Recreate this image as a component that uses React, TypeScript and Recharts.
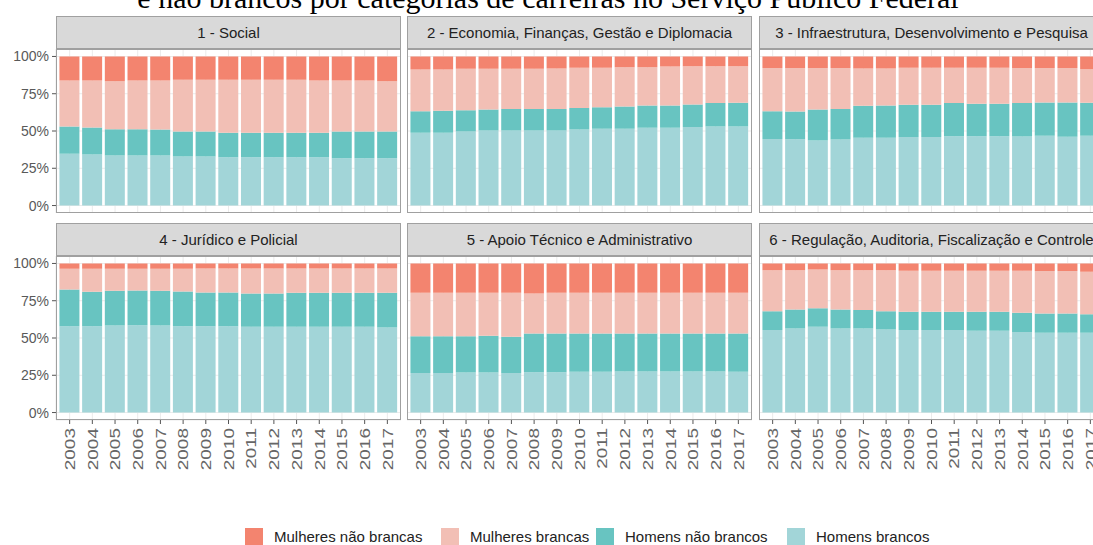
import React from "react";
import { BarChart, Bar, XAxis, YAxis, CartesianGrid } from "recharts";

// anos e títulos das facetas
const years = ["2003", "2004", "2005", "2006", "2007", "2008", "2009", "2010", "2011", "2012", "2013", "2014", "2015", "2016", "2017"];
const facetTitles = [
  "1 - Social",
  "2 - Economia, Finanças, Gestão e Diplomacia",
  "3 - Infraestrutura, Desenvolvimento e Pesquisa",
  "4 - Jurídico e Policial",
  "5 - Apoio Técnico e Administrativo",
  "6 - Regulação, Auditoria, Fiscalização e Controle",
];
const yTicks = [0, 25, 50, 75, 100];

// participação (%) por faceta, uma linha por faceta, 2003..2017
const homensBrancos = [
  [34.7, 34.2, 33.6, 33.6, 33.6, 32.9, 32.9, 32.4, 32.4, 32.4, 32.4, 32.4, 31.8, 31.8, 31.8],
  [48.8, 48.8, 49.7, 50.3, 50.3, 50.3, 50.3, 51.0, 51.5, 51.5, 52.1, 52.1, 52.6, 53.0, 53.0],
  [44.7, 44.5, 43.6, 44.3, 45.4, 45.4, 45.9, 45.9, 46.5, 46.5, 46.5, 46.3, 46.8, 46.1, 46.8],
  [57.9, 57.9, 58.4, 58.6, 58.4, 57.9, 57.9, 57.9, 57.5, 57.5, 57.5, 57.5, 57.5, 57.5, 57.0],
  [26.6, 26.6, 26.8, 26.8, 26.6, 27.1, 27.1, 27.3, 27.3, 27.5, 27.5, 27.5, 27.5, 27.5, 27.3],
  [55.3, 56.4, 57.5, 56.4, 56.4, 55.7, 55.3, 55.3, 55.3, 54.8, 54.8, 54.1, 53.5, 53.5, 53.5],
];
const homensNaoBrancos = [
  [18.3, 18.1, 17.6, 17.6, 17.4, 16.8, 16.8, 16.4, 16.4, 16.4, 16.4, 16.4, 17.9, 17.9, 17.9],
  [14.5, 14.7, 14.3, 14.1, 14.4, 14.4, 14.4, 14.5, 14.5, 14.9, 15.0, 15.0, 15.2, 15.7, 15.9],
  [18.6, 18.6, 20.8, 20.4, 21.5, 21.7, 21.7, 21.7, 22.2, 21.7, 21.7, 22.4, 22.3, 23.0, 22.1],
  [24.7, 23.1, 23.3, 23.3, 23.3, 23.3, 22.6, 22.6, 22.4, 22.4, 22.8, 22.8, 22.8, 22.8, 23.3],
  [24.6, 24.6, 24.4, 24.7, 24.2, 25.9, 25.9, 25.7, 25.7, 25.5, 25.5, 25.5, 25.5, 25.5, 25.7],
  [12.7, 12.7, 12.5, 12.7, 12.3, 12.3, 12.3, 12.3, 12.3, 12.8, 12.8, 12.8, 12.9, 12.9, 12.5],
];
const mulheresBrancas = [
  [30.9, 31.6, 32.2, 32.7, 32.9, 34.6, 34.6, 35.5, 35.5, 35.5, 35.5, 35.1, 34.2, 34.2, 33.7],
  [28.0, 27.8, 27.7, 27.3, 27.0, 27.0, 27.2, 26.9, 26.4, 26.4, 25.7, 26.2, 25.7, 24.8, 24.6],
  [28.9, 29.1, 27.8, 27.5, 25.1, 24.9, 24.8, 24.8, 23.7, 24.2, 24.2, 23.5, 23.1, 23.1, 22.6],
  [13.8, 15.4, 14.7, 14.5, 14.7, 15.2, 16.1, 16.1, 16.7, 16.7, 16.3, 16.3, 16.3, 16.3, 16.3],
  [29.1, 29.1, 29.1, 28.8, 29.5, 26.9, 27.3, 27.3, 27.3, 27.3, 27.3, 27.3, 27.3, 27.3, 27.3],
  [27.5, 26.4, 26.0, 26.4, 26.8, 27.5, 27.5, 27.5, 27.5, 27.5, 27.5, 28.2, 28.5, 28.5, 28.4],
];
const mulheresNaoBrancas = [
  [16.1, 16.1, 16.6, 16.1, 16.1, 15.7, 15.7, 15.7, 15.7, 15.7, 15.7, 16.1, 16.1, 16.1, 16.6],
  [8.7, 8.7, 8.3, 8.3, 8.3, 8.3, 8.1, 7.6, 7.6, 7.2, 7.2, 6.7, 6.5, 6.5, 6.5],
  [7.8, 7.8, 7.8, 7.8, 8.0, 8.0, 7.6, 7.6, 7.6, 7.6, 7.6, 7.8, 7.8, 7.8, 8.5],
  [3.6, 3.6, 3.6, 3.6, 3.6, 3.6, 3.4, 3.4, 3.4, 3.4, 3.4, 3.4, 3.4, 3.4, 3.4],
  [19.7, 19.7, 19.7, 19.7, 19.7, 20.1, 19.7, 19.7, 19.7, 19.7, 19.7, 19.7, 19.7, 19.7, 19.7],
  [4.5, 4.5, 4.0, 4.5, 4.5, 4.5, 4.9, 4.9, 4.9, 4.9, 4.9, 4.9, 5.1, 5.1, 5.6],
];

const seriesInfo = [
  { key: "hb", label: "Homens brancos", color: "#A2D5D8" },
  { key: "hnb", label: "Homens não brancos", color: "#68C4C1" },
  { key: "mb", label: "Mulheres brancas", color: "#F2BFB5" },
  { key: "mnb", label: "Mulheres não brancas", color: "#F3846F" },
];

const FONT = "'Liberation Sans', Arial, sans-serif";
const PANEL_W = 345;
const PANEL_H = 164;
const panelLefts = [56, 407, 759];
const plotTops = [48.5, 256];
const stripTops = [16, 223];
const STRIP_H = 32;

function panelData(p: number) {
  return years.map((y, i) => ({
    year: y,
    hb: homensBrancos[p][i],
    hnb: homensNaoBrancos[p][i],
    mb: mulheresBrancas[p][i],
    mnb: mulheresNaoBrancas[p][i],
  }));
}

// rótulos do eixo x girados, um pouco estreitos como no original
const YearTick = (props: any) => {
  const { x, y, payload } = props;
  return (
    <text
      transform={`translate(${x},${y + 2}) rotate(-90) scale(1,0.8)`}
      textAnchor="end"
      dominantBaseline="central"
      fontSize={19}
      fontFamily={FONT}
      fill="#666"
    >
      {payload.value}
    </text>
  );
};

function Panel({ index }: { index: number }) {
  const row = Math.floor(index / 3);
  const col = index % 3;
  const showY = col === 0;
  const showX = row === 1;
  const yW = showY ? 56 : 0;
  const xH = showX ? 60 : 0;
  const left = panelLefts[col] - yW;
  const top = plotTops[row];
  return (
    <div style={{ position: "absolute", left, top }}>
      <BarChart
        width={PANEL_W + yW}
        height={PANEL_H + xH}
        data={panelData(index)}
        margin={{ top: 0, right: 0, bottom: 0, left: 0 }}
        barCategoryGap="5%"
        style={{ overflow: "visible" }}
      >
        <CartesianGrid stroke="#EBEBEB" />
        <XAxis
          dataKey="year"
          hide={!showX}
          height={xH}
          padding={{ left: 2.3, right: 2.3 }}
          interval={0}
          axisLine={false}
          tickSize={4}
          tickMargin={2}
          tickLine={{ stroke: "#555" }}
          tick={<YearTick />}
        />
        <YAxis
          hide={!showY}
          width={yW}
          type="number"
          domain={[-5, 105]}
          ticks={yTicks}
          interval={0}
          allowDataOverflow
          axisLine={false}
          tickSize={4}
          tickMargin={3}
          tickLine={{ stroke: "#555" }}
          tick={{ fill: "#595959", fontSize: 14, fontFamily: FONT }}
          tickFormatter={(v: number) => `${v}%`}
        />
        {seriesInfo.map((s) => (
          <Bar key={s.key} dataKey={s.key} stackId="a" fill={s.color} isAnimationActive={false} />
        ))}
      </BarChart>
      <div
        style={{
          position: "absolute",
          left: yW,
          top: 0,
          width: PANEL_W,
          height: PANEL_H,
          border: "1px solid #A0A0A0",
          boxSizing: "border-box",
          pointerEvents: "none",
        }}
      />
    </div>
  );
}

function Strip({ index }: { index: number }) {
  const row = Math.floor(index / 3);
  const col = index % 3;
  return (
    <div
      style={{
        position: "absolute",
        left: panelLefts[col],
        top: stripTops[row],
        width: PANEL_W,
        height: STRIP_H + 1,
        background: "#D9D9D9",
        border: "1px solid #A0A0A0",
        boxSizing: "border-box",
        display: "flex",
        alignItems: "center",
        justifyContent: "center",
        fontFamily: FONT,
        fontSize: 15,
        color: "#222",
        whiteSpace: "nowrap",
        overflow: "visible",
      }}
    >
      {facetTitles[index]}
    </div>
  );
}

const legendOrder = ["mnb", "mb", "hnb", "hb"];
const legendKeyX = [245, 441, 596, 787];
const legendTextX = [274, 470, 625, 816];

export default function App() {
  return (
    <div
      style={{
        position: "absolute",
        left: 0,
        top: 0,
        width: 1093,
        height: 545,
        overflow: "hidden",
        background: "#fff",
      }}
    >
      <svg width={1093} height={24} style={{ position: "absolute", left: 0, top: 0 }}>
        <text x={548} y={8} textAnchor="middle" fontFamily="'Liberation Serif', 'Times New Roman', serif" fontSize={30} fill="#000">
          e não brancos por categorias de carreiras no Serviço Público Federal
        </text>
      </svg>
      {facetTitles.map((_, i) => (
        <Panel key={`p${i}`} index={i} />
      ))}
      {facetTitles.map((_, i) => (
        <Strip key={`s${i}`} index={i} />
      ))}
      {legendOrder.map((k, i) => {
        const s = seriesInfo.find((d) => d.key === k)!;
        return (
          <React.Fragment key={k}>
            <div
              style={{
                position: "absolute",
                left: legendKeyX[i],
                top: 528,
                width: 18,
                height: 18,
                background: s.color,
              }}
            />
            <div
              style={{
                position: "absolute",
                left: legendTextX[i],
                top: 528,
                height: 18,
                lineHeight: "18px",
                fontFamily: FONT,
                fontSize: 15,
                color: "#222",
                whiteSpace: "nowrap",
              }}
            >
              {s.label}
            </div>
          </React.Fragment>
        );
      })}
    </div>
  );
}
